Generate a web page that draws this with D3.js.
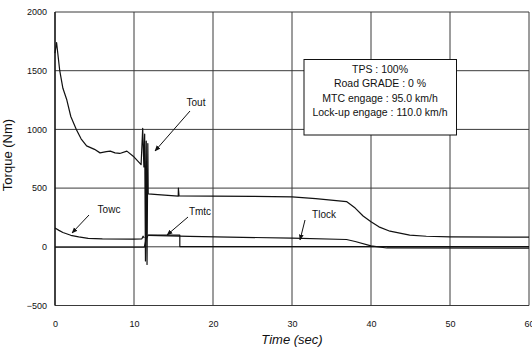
<!DOCTYPE html>
<html>
<head>
<meta charset="utf-8">
<script src="https://cdn.jsdelivr.net/npm/d3@7"></script>
<style>
	body { margin: 0; background: #fff; }
	svg { display: block; }
</style>
</head>
<body>
<div id="chart"></div>
<script>
/* global d3 */

// time (sec), torque (Nm)
var tout = [
	[0, 1650], [0.2, 1740], [0.6, 1500], [1.0, 1350], [1.5, 1250], [2.0, 1110],
	[2.7, 1000], [3.3, 920], [4.0, 860], [5.0, 830], [5.7, 800], [6.5, 810],
	[7.0, 815], [7.6, 800], [8.2, 795], [9.1, 815], [9.9, 772], [10.9, 700],
	[11.1, 1010], [11.25, 680], [11.35, 960], [11.45, -120], [11.55, 900],
	[11.65, -150], [11.75, 880], [11.8, 450], [13.0, 445], [15.6, 432],
	[15.62, 500], [15.7, 434], [20, 432], [25, 430], [30, 426], [33, 410],
	[36.9, 385], [38, 330], [39, 262], [40, 213], [41, 170], [42.4, 133],
	[44.9, 100], [47, 90], [50, 85], [60, 82]
];

var towc = [
	[0, 160], [0.5, 140], [1.0, 122], [2.0, 98], [3.0, 85], [4.2, 72],
	[6.0, 68], [9.9, 66], [11.0, 68], [11.15, 90], [11.3, 75]
];

var tmtc = [
	[0, -4], [11.3, -4], [11.5, 60], [11.8, 100], [15.8, 100], [15.8, 2],
	[40, 2], [60, 2]
];

var tlock = [
	[11.8, 98], [17, 88], [30, 74], [36.9, 62], [38, 45], [40, 8],
	[42, -10], [60, -12]
];

var xTicks = [0, 10, 20, 30, 40, 50, 60];
var yTicks = [-500, 0, 500, 1000, 1500, 2000];

var infoLines = [
	"TPS : 100%",
	"Road GRADE : 0 %",
	"MTC engage : 95.0 km/h",
	"Lock-up engage : 110.0 km/h"
];

// label text, label position, arrow from -> to
var callouts = [
	{ text: "Tout",  x: 196, y: 106, from: [190, 111], to: [155, 151] },
	{ text: "Towc",  x: 109, y: 213, from: [89, 215],  to: [72, 233] },
	{ text: "Tmtc",  x: 200, y: 215, from: [188, 217], to: [167, 235] },
	{ text: "Tlock", x: 324, y: 218, from: [305, 220], to: [300, 240] }
];


var width = 532;
var height = 349;

var margin = { left: 55, right: 3, top: 12, bottom: 43.5 };

var x = d3.scaleLinear()
	.domain([0, 60])
	.range([margin.left, width - margin.right]);

var y = d3.scaleLinear()
	.domain([-500, 2000])
	.range([height - margin.bottom, margin.top]);

var svg = d3.select('#chart')
	.append('svg')
	.attr('width', width)
	.attr('height', height)
	.attr('font-family', 'Arial, "Liberation Sans", sans-serif');

// grid
svg.append('g')
	.selectAll('line')
	.data(yTicks)
	.join('line')
	.attr('x1', x(0))
	.attr('x2', x(60))
	.attr('y1', function(d){ return y(d); })
	.attr('y2', function(d){ return y(d); })
	.attr('stroke', '#3a3a3a')
	.attr('stroke-width', 1);

svg.append('g')
	.selectAll('line')
	.data(xTicks)
	.join('line')
	.attr('x1', function(d){ return x(d); })
	.attr('x2', function(d){ return x(d); })
	.attr('y1', y(-500))
	.attr('y2', y(2000))
	.attr('stroke', '#3a3a3a')
	.attr('stroke-width', 1);

// axes, labels only
var xAxis = svg.append('g')
	.attr('transform', 'translate(0,' + (y(-500) + 9) + ')')
	.call(d3.axisBottom(x).tickValues(xTicks).tickSize(0).tickPadding(6));

var yAxis = svg.append('g')
	.attr('transform', 'translate(' + (x(0) - 8) + ',0)')
	.call(d3.axisLeft(y).tickValues(yTicks).tickSize(0).tickPadding(0).tickFormat(d3.format('d')));

[xAxis, yAxis].forEach(function(a){
	a.select('.domain').remove();
	a.selectAll('text')
		.attr('font-family', 'Arial, "Liberation Sans", sans-serif')
		.attr('font-size', 9)
		.attr('fill', '#111');
});

// left axis heavier
svg.append('line')
	.attr('x1', x(0)).attr('x2', x(0))
	.attr('y1', y(-500)).attr('y2', y(2000))
	.attr('stroke', '#111')
	.attr('stroke-width', 1.3);

// curves
var line = d3.line()
	.x(function(d){ return x(d[0]); })
	.y(function(d){ return y(d[1]); });

[tout, towc, tmtc, tlock].forEach(function(series){
	svg.append('path')
		.datum(series)
		.attr('d', line)
		.attr('fill', 'none')
		.attr('stroke', '#111')
		.attr('stroke-width', 1.2)
		.attr('stroke-linejoin', 'round');
});

// info box
var box = svg.append('g');

box.append('rect')
	.attr('x', 304)
	.attr('y', 59.5)
	.attr('width', 152.5)
	.attr('height', 75.5)
	.attr('fill', '#fff')
	.attr('stroke', '#111')
	.attr('stroke-width', 1);

box.selectAll('text')
	.data(infoLines)
	.join('text')
	.attr('x', 380)
	.attr('y', function(d, i){ return 72.5 + i * 14.5; })
	.attr('font-size', 10.5)
	.attr('fill', '#111')
	.style('text-anchor', 'middle')
	.text(function(d){ return d; });

// arrow head
svg.append('defs')
	.append('marker')
	.attr('id', 'arrow')
	.attr('viewBox', '0 0 10 10')
	.attr('refX', 9)
	.attr('refY', 5)
	.attr('markerWidth', 6)
	.attr('markerHeight', 6)
	.attr('orient', 'auto')
	.append('path')
	.attr('d', 'M0,1 L10,5 L0,9 Z')
	.attr('fill', '#111');

callouts.forEach(function(c){

	svg.append('line')
		.attr('x1', c.from[0]).attr('y1', c.from[1])
		.attr('x2', c.to[0]).attr('y2', c.to[1])
		.attr('stroke', '#111')
		.attr('stroke-width', 1)
		.attr('marker-end', 'url(#arrow)');

	svg.append('text')
		.attr('x', c.x)
		.attr('y', c.y)
		.attr('font-size', 10)
		.attr('fill', '#111')
		.style('text-anchor', 'middle')
		.text(c.text);
});

// axis titles
svg.append('text')
	.attr('x', 292)
	.attr('y', 344)
	.attr('font-size', 13)
	.attr('font-style', 'italic')
	.attr('fill', '#111')
	.style('text-anchor', 'middle')
	.text('Time (sec)');

svg.append('text')
	.attr('transform', 'translate(12,155) rotate(-90)')
	.attr('font-size', 13)
	.attr('fill', '#111')
	.style('text-anchor', 'middle')
	.text('Torque (Nm)');
</script>
</body>
</html>
